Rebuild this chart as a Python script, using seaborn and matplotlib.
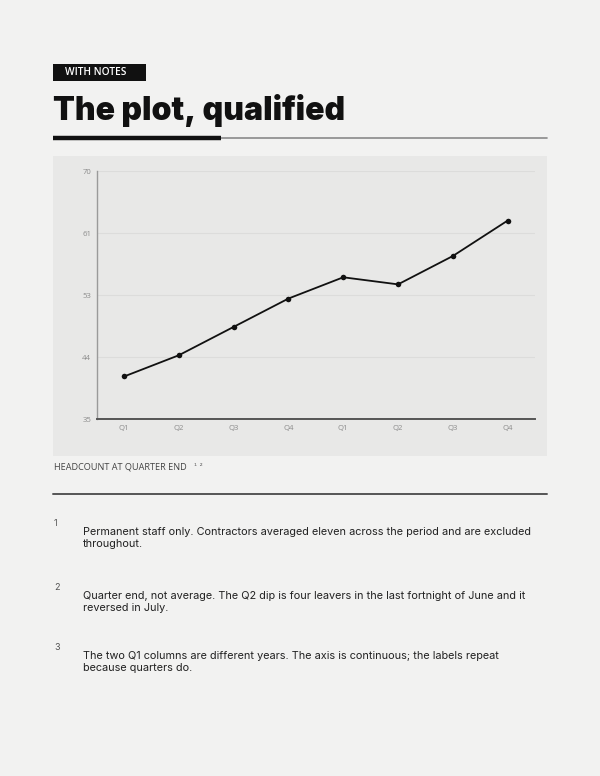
import matplotlib
matplotlib.use("Agg")
import matplotlib.pyplot as plt
from matplotlib.patches import Rectangle
from matplotlib.lines import Line2D
import seaborn as sns
import pandas as pd

# ---- data ----
quarters = ["Q1", "Q2", "Q3", "Q4", "Q1", "Q2", "Q3", "Q4"]
headcount = [41, 44, 48, 52, 55, 54, 58, 63]
y_ticks = [35, 43.75, 52.5, 61.25, 70]
y_tick_labels = ["35", "44", "53", "61", "70"]
kicker = "WITH NOTES"
title = "The plot, qualified"
caption = "HEADCOUNT AT QUARTER END"
caption_refs = "¹ ²"
notes = [
    "Permanent staff only. Contractors averaged eleven across the period and are excluded\nthroughout.",
    "Quarter end, not average. The Q2 dip is four leavers in the last fortnight of June and it\nreversed in July.",
    "The two Q1 columns are different years. The axis is continuous; the labels repeat\nbecause quarters do.",
]

PAGE = "#f2f2f1"
PANEL = "#e8e8e7"
INK = "#111111"

sns.set_theme(style="white")
plt.rcParams["font.family"] = ["Inter", "DejaVu Sans"]

W, H = 600, 776
fig = plt.figure(figsize=(6, 7.76), dpi=100)
fig.patch.set_facecolor(PAGE)

def fx(px):
    return px / W

def fy(py):
    return 1 - py / H

# chart panel
fig.patches.append(Rectangle((fx(53), fy(456)), fx(547) - fx(53), fy(156) - fy(456),
                             transform=fig.transFigure, facecolor=PANEL, edgecolor="none", zorder=0))

# kicker box
fig.patches.append(Rectangle((fx(53), fy(81)), fx(146) - fx(53), fy(64) - fy(81),
                             transform=fig.transFigure, facecolor=INK, edgecolor="none", zorder=1))
fig.text(fx(65), fy(72.5), kicker, color="white", fontsize=7.3, fontweight="semibold",
         va="center", ha="left", family=["Open Sans", "DejaVu Sans"])

# title
fig.text(fx(53), fy(120), title, color=INK, fontsize=23, fontweight="black",
         va="baseline", ha="left")

# rules under title
fig.add_artist(Line2D([fx(221), fx(547)], [fy(137.5), fy(137.5)], transform=fig.transFigure,
                      color="#8a8a8a", lw=1.2))
fig.add_artist(Line2D([fx(53), fx(221)], [fy(137.5), fy(137.5)], transform=fig.transFigure,
                      color=INK, lw=3.2, solid_capstyle="butt"))

# axes
ax = fig.add_axes([fx(96.7), fy(419), fx(535) - fx(96.7), fy(171) - fy(419)])
ax.set_zorder(5)
ax.set_facecolor("none")
df = pd.DataFrame({"idx": range(len(quarters)), "headcount": headcount})
sns.lineplot(data=df, x="idx", y="headcount", ax=ax, color=INK, lw=1.3,
             marker="o", markersize=4, markeredgewidth=0)
ax.set_xlim(-0.5, len(quarters) - 0.5)
ax.set_ylim(35, 70)
ax.set_yticks(y_ticks)
ax.set_yticklabels(y_tick_labels)
ax.set_xticks(range(len(quarters)))
ax.set_xticklabels(quarters)
ax.set_xlabel("")
ax.set_ylabel("")
ax.tick_params(axis="both", length=0, labelsize=5.6, labelcolor="#8c8c8c", pad=4)
for lab in ax.get_xticklabels() + ax.get_yticklabels():
    lab.set_family(["Open Sans", "DejaVu Sans"])
ax.grid(axis="y", color="#dcdcdb", lw=0.8)
ax.grid(axis="x", visible=False)
for s in ["top", "right"]:
    ax.spines[s].set_visible(False)
ax.spines["left"].set_color("#9a9a9a")
ax.spines["left"].set_linewidth(1.0)
ax.spines["bottom"].set_color("#555555")
ax.spines["bottom"].set_linewidth(1.4)

# caption
fig.text(fx(54), fy(467), caption, color="#444444", fontsize=6.6, va="center", ha="left",
         family=["Open Sans", "DejaVu Sans"])
fig.text(fx(194), fy(466.5), caption_refs, color="#666666", fontsize=5.6, va="center", ha="left",
         family=["DejaVu Sans"])

# divider
fig.add_artist(Line2D([fx(53), fx(547)], [fy(494.5), fy(494.5)], transform=fig.transFigure,
                      color="#555555", lw=1.4))

# notes
num_y = [523, 587, 647]
for i, (ny, note) in enumerate(zip(num_y, notes)):
    fig.text(fx(54), fy(ny), str(i + 1), color="#555555", fontsize=6.5, va="center", ha="left")
    fig.text(fx(83), fy(ny + 4), note, color="#222222", fontsize=7.85, va="top", ha="left",
             linespacing=1.3)

fig.savefig("out.png", dpi=100, facecolor=PAGE)
